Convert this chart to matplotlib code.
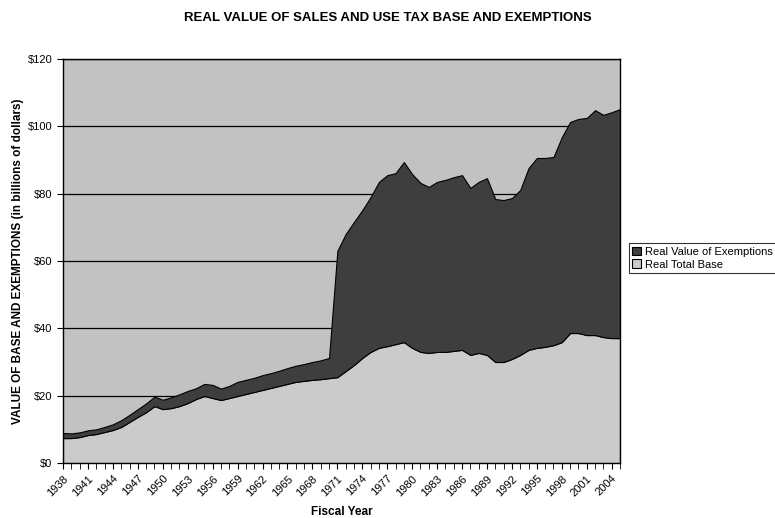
import matplotlib
matplotlib.use("Agg")
import matplotlib.pyplot as plt
import numpy as np

plt.rcParams['font.family'] = ['Liberation Sans', 'DejaVu Sans']

years = list(range(1938, 2006))

real_total_base = [
    7.4, 7.4, 7.7, 8.3, 8.6, 9.2, 9.8, 10.7, 12.2, 13.7,
    15.1, 16.9, 16.0, 16.3, 16.9, 17.8, 19.0, 19.9, 19.3, 18.7,
    19.3, 19.9, 20.5, 21.1, 21.7, 22.3, 22.9, 23.5, 24.1, 24.4,
    24.7, 24.9, 25.2, 25.5, 27.3, 29.1, 31.2, 33.0, 34.2, 34.7,
    35.3, 35.9, 34.2, 33.0, 32.7, 33.0, 33.0, 33.3, 33.6, 32.1,
    32.7, 32.1, 30.0, 30.0, 30.9, 32.1, 33.6, 34.2, 34.5, 35.0,
    35.9, 38.6, 38.6, 38.0, 38.0, 37.4, 37.1, 37.1,
]

real_value_of_exemptions = [
    1.5, 1.4, 1.4, 1.4, 1.4, 1.5, 1.7, 2.0, 2.1, 2.3,
    2.6, 2.8, 2.8, 3.2, 3.5, 3.6, 3.2, 3.6, 3.9, 3.4,
    3.6, 4.2, 4.2, 4.2, 4.4, 4.4, 4.5, 4.7, 4.8, 5.0,
    5.3, 5.6, 6.0, 37.5, 40.7, 42.5, 43.9, 46.0, 49.3, 50.8,
    50.8, 53.5, 51.6, 50.2, 49.3, 50.5, 51.1, 51.6, 51.9, 49.6,
    50.8, 52.5, 48.4, 48.1, 47.8, 49.0, 54.0, 56.4, 56.1, 55.9,
    60.9, 62.7, 63.6, 64.5, 66.8, 66.0, 67.1, 68.0,
]

y_ticks = [0, 20, 40, 60, 80, 100, 120]
x_label_years = list(range(1938, 2006, 3))

fig = plt.figure(figsize=(7.75, 5.18), dpi=100)
ax = fig.add_axes([63/775, 55/518, 557/775, 404/518])
ax.set_facecolor('#c2c2c2')

ax.stackplot(years, real_total_base, real_value_of_exemptions,
             colors=['#cbcbcb', '#3e3e3e'], edgecolor='black', linewidth=0.8,
             labels=['Real Total Base', 'Real Value of Exemptions'], zorder=2)

ax.set_xlim(years[0], years[-1])
ax.set_ylim(0, 120)
ax.set_yticks(y_ticks)
ax.set_yticklabels([f'${v}' for v in y_ticks], fontsize=8)
ax.yaxis.grid(True, color='black', linewidth=0.9, zorder=1)
ax.set_axisbelow(True)

ax.set_xticks(years, minor=True)
ax.set_xticks(x_label_years)
ax.set_xticklabels([str(y) for y in x_label_years], rotation=45, ha='right',
                   rotation_mode='anchor', fontsize=8)
ax.tick_params(axis='x', which='both', direction='out', length=4, color='black')
ax.tick_params(axis='y', direction='out', length=4)

for s in ax.spines.values():
    s.set_color('black')
    s.set_linewidth(1.0)

ax.set_xlabel('Fiscal Year', fontsize=8.5, fontweight='bold', labelpad=6)
ax.set_ylabel('VALUE OF BASE AND EXEMPTIONS (in billions of dollars)',
              fontsize=8.5, fontweight='bold')
ax.yaxis.set_label_coords(-39/557, 0.5)

fig.text(388/775, 1 - 18/518, 'REAL VALUE OF SALES AND USE TAX BASE AND EXEMPTIONS',
         ha='center', va='center', fontsize=9.5, fontweight='bold')

handles, labels = ax.get_legend_handles_labels()
leg = fig.legend(handles[::-1], labels[::-1], loc='center left',
                 bbox_to_anchor=(629/775, 1 - 258/518), fontsize=8,
                 frameon=True, fancybox=False, edgecolor='black',
                 handlelength=0.8, handleheight=0.8, handletextpad=0.3,
                 borderpad=0.3, labelspacing=0.25, borderaxespad=0)
leg.get_frame().set_linewidth(0.8)

fig.savefig('out.png', dpi=100)
